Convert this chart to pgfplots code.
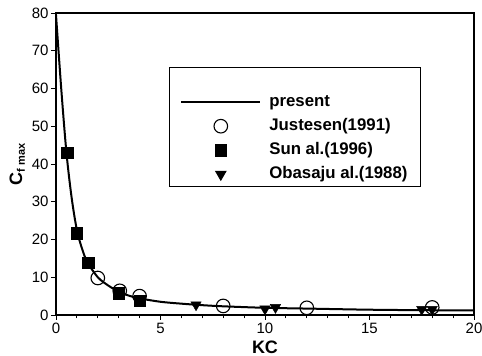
\documentclass[border=0pt]{standalone}
\usepackage{fontspec}
\setmainfont{Liberation Sans}
\usepackage{pgfplots}
\pgfplotsset{compat=1.18}
\pgfplotsset{
  linelegend/.style={legend image code/.code={\path[draw=none] (0pt,0pt) -- (0pt,32pt); \draw[##1] (0pt,0pt) -- (79pt,0pt);}},
  marklegend/.style={legend image code/.code={\draw[##1] plot coordinates {(39.5pt,0pt)};}},
}
\begin{document}
\begin{tikzpicture}
\begin{axis}[
  scale only axis,
  width=418pt, height=302pt,
  xmin=0, xmax=20, ymin=0, ymax=80,
  xtick={0,5,10,15,20}, minor x tick num=4,
  ytick={0,10,...,80},
  tick align=outside,
  xtick pos=bottom, ytick pos=left,
  axis line style={line width=1.4pt},
  major tick length=5pt, minor tick length=3.5pt,
  every tick/.style={black, line width=0.9pt},
  tick label style={font=\fontsize{15}{17}\selectfont},
  yticklabel style={xshift=1pt},
  /pgf/number format/assume math mode=true,
  xlabel={\textbf{KC}},
  ylabel={\textbf{C\textsubscript{\fontsize{11}{11}\selectfont f max}}},
  label style={font=\fontsize{18}{20}\selectfont},
  xlabel style={yshift=0pt},
  ylabel style={yshift=0pt},
  legend style={at={(0.270,0.822)}, anchor=north west,
    draw=black, line width=0.9pt,
    font=\fontsize{16.8}{18}\selectfont\bfseries,
    inner xsep=11pt, inner ysep=3pt,
    nodes={text height=11pt, text depth=3pt, inner sep=2pt},
    column sep=6pt,
    row sep=6pt},
  legend cell align=left,
  clip=false,
]
\addplot[black, line width=2pt, smooth, tension=0.5, linelegend] coordinates {
(0,79.5) (0.25,60) (0.5,43) (0.75,31) (1,22.5) (1.25,17.5) (1.5,14) (2,10)
(2.5,7.8) (3,6.2) (3.5,5.1) (4,4.4) (5,3.5) (6,3.0) (7,2.6) (8,2.3)
(10,1.9) (12,1.7) (15,1.4) (18,1.25) (20,1.2)};
\addlegendentry{present}
\addplot[only marks, mark=o, mark size=6.8pt, line width=1.1pt, black, fill=white, marklegend] coordinates {
(2.0,9.8) (3.05,6.4) (4.0,5.0) (8.0,2.4) (12.0,1.9) (18.0,2.0)};
\addlegendentry{Justesen(1991)}
\addplot[only marks, mark=square*, mark size=5.8pt, black, marklegend] coordinates {
(0.53,43) (1.0,21.7) (1.53,13.8) (3.0,5.8) (4.0,3.8)};
\addlegendentry{Sun al.(1996)}
\addplot[only marks, mark=triangle*, mark size=6pt, mark options={rotate=180}, black, marklegend] coordinates {
(6.7,2.7) (10.0,1.6) (10.5,2.0) (17.5,1.5) (18.0,1.5)};
\addlegendentry{Obasaju al.(1988)}
\end{axis}
\pgfresetboundingbox
\path[use as bounding box] ([xshift=-56pt,yshift=-41pt]current axis.south west) rectangle ([xshift=8pt,yshift=13pt]current axis.north east);
\end{tikzpicture}
\end{document}
